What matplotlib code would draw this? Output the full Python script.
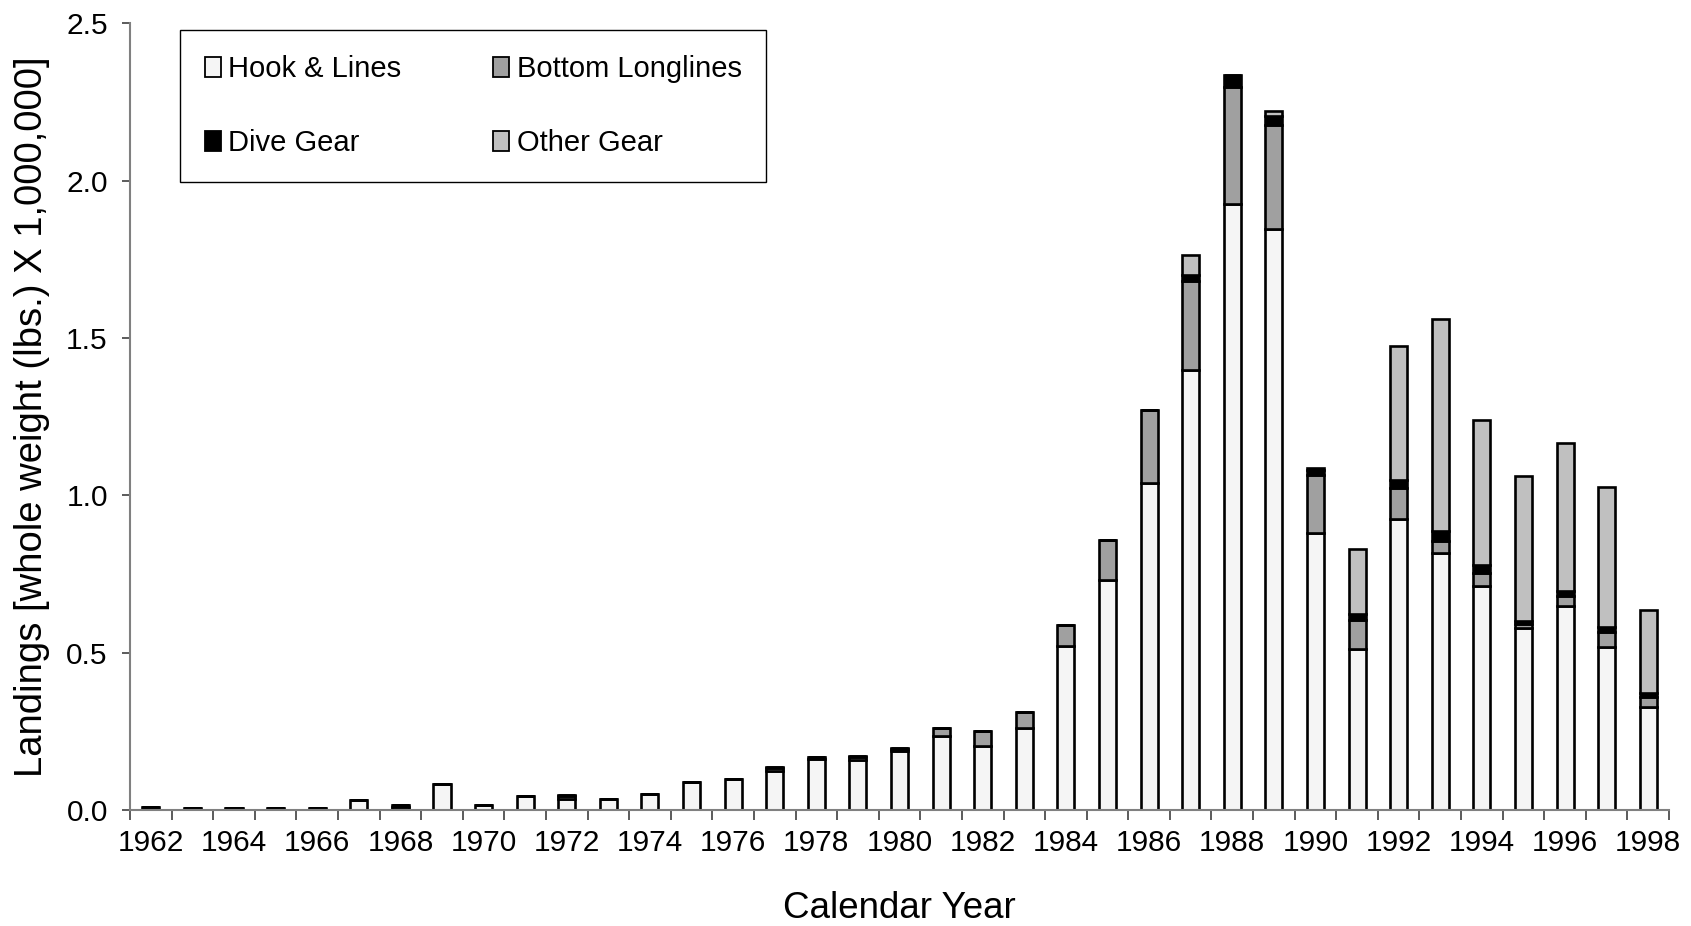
import numpy as np
import matplotlib
matplotlib.use('Agg')
import matplotlib.pyplot as plt

plt.rcParams['font.family'] = ['Liberation Sans', 'DejaVu Sans']

# Landings by gear (million lbs, whole weight)
years = list(range(1962, 1999))
hook_lines = [0.010, 0.007, 0.007, 0.006, 0.007, 0.032, 0.010, 0.082, 0.016, 0.043,
              0.035, 0.034, 0.051, 0.089, 0.097, 0.124, 0.162, 0.159, 0.186, 0.236,
              0.204, 0.259, 0.521, 0.730, 1.040, 1.397, 1.926, 1.846, 0.879, 0.511,
              0.925, 0.817, 0.712, 0.578, 0.648, 0.517, 0.326]
bottom_longlines = [0.0, 0.0, 0.0, 0.0, 0.0, 0.0, 0.005, 0.0, 0.0, 0.0,
                    0.010, 0.0, 0.0, 0.0, 0.0, 0.008, 0.005, 0.008, 0.008, 0.025,
                    0.047, 0.053, 0.068, 0.128, 0.231, 0.283, 0.370, 0.330, 0.185, 0.094,
                    0.099, 0.038, 0.040, 0.012, 0.032, 0.049, 0.032]
dive_gear = [0.0, 0.0, 0.0, 0.0, 0.0, 0.0, 0.0, 0.0, 0.0, 0.0,
             0.004, 0.0, 0.0, 0.0, 0.0, 0.003, 0.002, 0.003, 0.004, 0.0,
             0.0, 0.0, 0.0, 0.0, 0.0, 0.020, 0.040, 0.030, 0.015, 0.018,
             0.023, 0.031, 0.025, 0.012, 0.016, 0.016, 0.013]
other_gear = [0.0, 0.0, 0.0, 0.0, 0.0, 0.0, 0.0, 0.0, 0.0, 0.0,
              0.0, 0.0, 0.0, 0.0, 0.0, 0.0, 0.0, 0.0, 0.0, 0.0,
              0.0, 0.0, 0.0, 0.0, 0.0, 0.064, 0.0, 0.014, 0.009, 0.207,
              0.427, 0.674, 0.461, 0.459, 0.470, 0.444, 0.264]
y_ticks = [0.0, 0.5, 1.0, 1.5, 2.0, 2.5]

fig = plt.figure(figsize=(16.91, 9.26), dpi=100)
ax = fig.add_axes([0.0769, 0.1253, 0.9101, 0.8497])

x = np.arange(len(years))
width = 0.41
edge_kw = dict(edgecolor='black', linewidth=1.9)

# stack the four gear types
base = np.zeros(len(years))
series = [
    (hook_lines, '#F5F5F5', 'Hook & Lines'),
    (bottom_longlines, '#A0A0A0', 'Bottom Longlines'),
    (dive_gear, '#000000', 'Dive Gear'),
    (other_gear, '#C0C0C0', 'Other Gear'),
]
handles = {}
for vals, color, label in series:
    vals = np.array(vals)
    b = ax.bar(x, vals, width, bottom=base, color=color, label=label, **edge_kw)
    handles[label] = b
    base = base + vals

ax.set_xlim(-0.5, len(years) - 0.5)
ax.set_ylim(0, 2.5)

# x axis: tick marks between categories, labels every other year
ax.set_xticks(x[::2])
ax.set_xticklabels([str(y) for y in years[::2]])
ax.set_xticks(np.arange(len(years) + 1) - 0.5, minor=True)
ax.tick_params(axis='x', which='major', length=0, pad=14, labelsize=21.5)
ax.tick_params(axis='x', which='minor', length=7, width=1.2, color='#404040')

ax.set_yticks(y_ticks)
ax.set_yticklabels(['%.1f' % v for v in y_ticks])
ax.tick_params(axis='y', length=6, width=1.2, pad=10, labelsize=21.5, color='#404040')

for side in ['top', 'right']:
    ax.spines[side].set_visible(False)
for side in ['left', 'bottom']:
    ax.spines[side].set_color('#808080')
    ax.spines[side].set_linewidth(1.5)

ax.set_xlabel('Calendar Year', fontsize=26.5, labelpad=24)
ax.set_ylabel('Landings [whole weight (lbs.) X 1,000,000]', fontsize=27.5, labelpad=12)

order = ['Hook & Lines', 'Dive Gear', 'Bottom Longlines', 'Other Gear']
leg = ax.legend([handles[k] for k in order], order, ncol=2, loc='upper left',
                bbox_to_anchor=(0.0325, 0.991), borderaxespad=0, fontsize=21,
                frameon=True, fancybox=False, shadow=False, framealpha=1,
                handlelength=0.55, handleheight=0.65, handletextpad=0.25,
                labelspacing=1.58, columnspacing=3.15, borderpad=0.85)
leg.get_frame().set_edgecolor('black')
leg.get_frame().set_linewidth(1.0)
for h in leg.legend_handles:
    h.set_linewidth(1.3)

plt.savefig('out.png', dpi=100)
